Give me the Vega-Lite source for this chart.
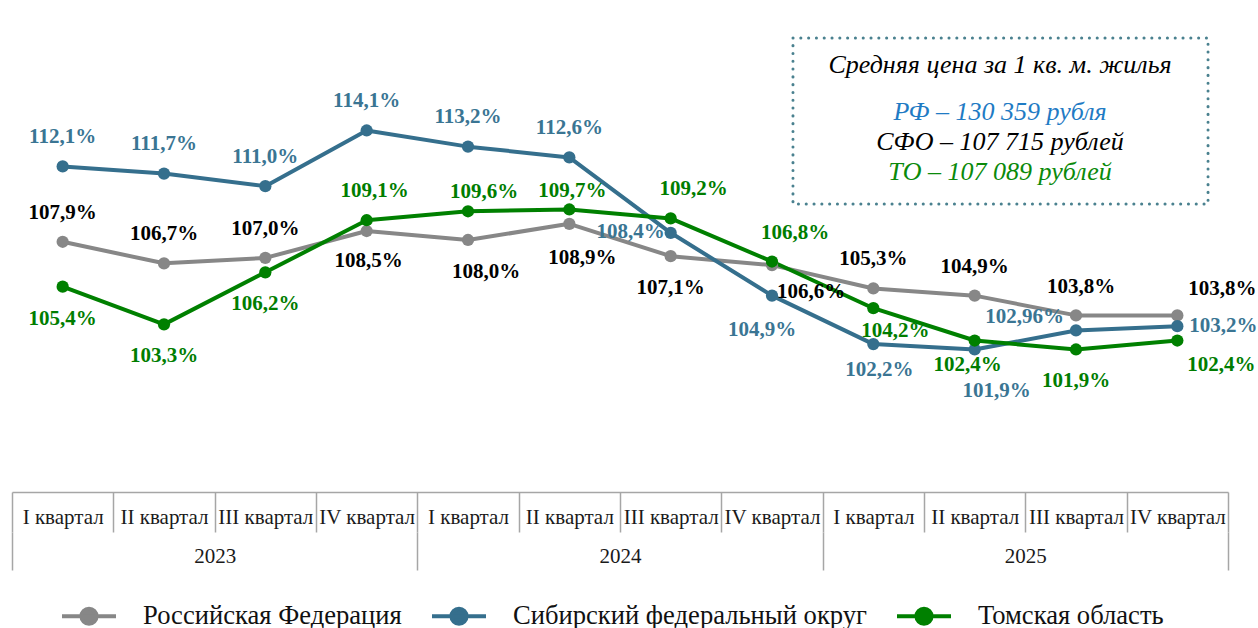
{
  "$schema": "https://vega.github.io/schema/vega-lite/v6.json",
  "width": 1216,
  "height": 492,
  "padding": {"left": 11, "top": 0, "right": 0, "bottom": 0},
  "background": "white",
  "config": {"view": {"stroke": null}, "font": "Liberation Serif"},
  "data": {"values": [
    {"period": "2023 I", "year": "2023", "code": "RF", "series": "Российская Федерация", "value": 107.9, "label": "107,9%"},
    {"period": "2023 II", "year": "2023", "code": "RF", "series": "Российская Федерация", "value": 106.7, "label": "106,7%"},
    {"period": "2023 III", "year": "2023", "code": "RF", "series": "Российская Федерация", "value": 107.0, "label": "107,0%"},
    {"period": "2023 IV", "year": "2023", "code": "RF", "series": "Российская Федерация", "value": 108.5, "label": "108,5%"},
    {"period": "2024 I", "year": "2024", "code": "RF", "series": "Российская Федерация", "value": 108.0, "label": "108,0%"},
    {"period": "2024 II", "year": "2024", "code": "RF", "series": "Российская Федерация", "value": 108.9, "label": "108,9%"},
    {"period": "2024 III", "year": "2024", "code": "RF", "series": "Российская Федерация", "value": 107.1, "label": "107,1%"},
    {"period": "2024 IV", "year": "2024", "code": "RF", "series": "Российская Федерация", "value": 106.6, "label": "106,6%"},
    {"period": "2025 I", "year": "2025", "code": "RF", "series": "Российская Федерация", "value": 105.3, "label": "105,3%"},
    {"period": "2025 II", "year": "2025", "code": "RF", "series": "Российская Федерация", "value": 104.9, "label": "104,9%"},
    {"period": "2025 III", "year": "2025", "code": "RF", "series": "Российская Федерация", "value": 103.8, "label": "103,8%"},
    {"period": "2025 IV", "year": "2025", "code": "RF", "series": "Российская Федерация", "value": 103.8, "label": "103,8%"},
    {"period": "2023 I", "year": "2023", "code": "SFO", "series": "Сибирский федеральный округ", "value": 112.1, "label": "112,1%"},
    {"period": "2023 II", "year": "2023", "code": "SFO", "series": "Сибирский федеральный округ", "value": 111.7, "label": "111,7%"},
    {"period": "2023 III", "year": "2023", "code": "SFO", "series": "Сибирский федеральный округ", "value": 111.0, "label": "111,0%"},
    {"period": "2023 IV", "year": "2023", "code": "SFO", "series": "Сибирский федеральный округ", "value": 114.1, "label": "114,1%"},
    {"period": "2024 I", "year": "2024", "code": "SFO", "series": "Сибирский федеральный округ", "value": 113.2, "label": "113,2%"},
    {"period": "2024 II", "year": "2024", "code": "SFO", "series": "Сибирский федеральный округ", "value": 112.6, "label": "112,6%"},
    {"period": "2024 III", "year": "2024", "code": "SFO", "series": "Сибирский федеральный округ", "value": 108.4, "label": "108,4%"},
    {"period": "2024 IV", "year": "2024", "code": "SFO", "series": "Сибирский федеральный округ", "value": 104.9, "label": "104,9%"},
    {"period": "2025 I", "year": "2025", "code": "SFO", "series": "Сибирский федеральный округ", "value": 102.2, "label": "102,2%"},
    {"period": "2025 II", "year": "2025", "code": "SFO", "series": "Сибирский федеральный округ", "value": 101.9, "label": "101,9%"},
    {"period": "2025 III", "year": "2025", "code": "SFO", "series": "Сибирский федеральный округ", "value": 102.96, "label": "102,96%"},
    {"period": "2025 IV", "year": "2025", "code": "SFO", "series": "Сибирский федеральный округ", "value": 103.2, "label": "103,2%"},
    {"period": "2023 I", "year": "2023", "code": "TO", "series": "Томская область", "value": 105.4, "label": "105,4%"},
    {"period": "2023 II", "year": "2023", "code": "TO", "series": "Томская область", "value": 103.3, "label": "103,3%"},
    {"period": "2023 III", "year": "2023", "code": "TO", "series": "Томская область", "value": 106.2, "label": "106,2%"},
    {"period": "2023 IV", "year": "2023", "code": "TO", "series": "Томская область", "value": 109.1, "label": "109,1%"},
    {"period": "2024 I", "year": "2024", "code": "TO", "series": "Томская область", "value": 109.6, "label": "109,6%"},
    {"period": "2024 II", "year": "2024", "code": "TO", "series": "Томская область", "value": 109.7, "label": "109,7%"},
    {"period": "2024 III", "year": "2024", "code": "TO", "series": "Томская область", "value": 109.2, "label": "109,2%"},
    {"period": "2024 IV", "year": "2024", "code": "TO", "series": "Томская область", "value": 106.8, "label": "106,8%"},
    {"period": "2025 I", "year": "2025", "code": "TO", "series": "Томская область", "value": 104.2, "label": "104,2%"},
    {"period": "2025 II", "year": "2025", "code": "TO", "series": "Томская область", "value": 102.4, "label": "102,4%"},
    {"period": "2025 III", "year": "2025", "code": "TO", "series": "Томская область", "value": 101.9, "label": "101,9%"},
    {"period": "2025 IV", "year": "2025", "code": "TO", "series": "Томская область", "value": 102.4, "label": "102,4%"}
  ]},
  "resolve": {"scale": {"x": "independent"}, "axis": {"x": "independent"}},
  "layer": [
    {
      "encoding": {
        "x": {"field": "period", "type": "ordinal", "sort": null,
              "scale": {"type": "band", "paddingInner": 0, "paddingOuter": 0},
              "axis": {"title": null, "orient": "bottom", "domain": true, "domainColor": "#a6a6a6", "domainWidth": 1.5,
                       "ticks": true, "tickBand": "extent", "tickSize": 40, "tickColor": "#a6a6a6", "tickWidth": 1.5,
                       "labelExpr": "isString(datum.value) ? split(datum.value, ' ')[1] + ' квартал' : ''", "labelFont": "Liberation Serif", "labelFontSize": 21,
                       "labelColor": "#1a1a1a", "labelBaseline": "middle", "labelPadding": -14.5, "labelOverlap": false,
                       "labelAngle": 0, "grid": false, "labelLimit": 200}},
        "y": {"field": "value", "type": "quantitative", "scale": {"domain": [93.96, 121.37], "nice": false, "zero": false}, "axis": null}
      },
      "layer": [
        {
          "mark": {"type": "line", "strokeWidth": 4, "strokeJoin": "round", "point": {"filled": true, "size": 150, "opacity": 1}},
          "encoding": {
            "color": {"field": "series", "type": "nominal",
                      "scale": {"domain": ["Российская Федерация", "Сибирский федеральный округ", "Томская область"], "range": ["#878787", "#356f8d", "#008000"]},
                      "legend": {"title": null, "orient": "none", "legendX": 48, "legendY": 587, "direction": "horizontal",
                                 "symbolType": "M-1,0L1,0M0.28,0A0.28,0.28,0,1,1,-0.28,0A0.28,0.28,0,1,1,0.28,0Z",
                                 "symbolSize": 2916, "symbolStrokeWidth": 4,
                                 "labelFont": "Liberation Serif", "labelFontSize": 26.6, "labelColor": "#111111",
                                 "labelOffset": 25, "columnPadding": 22, "labelLimit": 600,
                                 "encode": {"symbols": {"update": {"fill": {"scale": "color", "field": "value"}, "stroke": {"scale": "color", "field": "value"}, "opacity": {"value": 1}}}}}
            }
          }
        },
        {
          "encoding": {
            "text": {"field": "label", "type": "nominal"},
            "color": {"condition": [{"test": "datum.code==='RF'", "value": "#000000"}, {"test": "datum.code==='SFO'", "value": "#3a7593"}], "value": "#007d00"}
          },
          "layer": [
            {"transform": [{"filter": "datum.code==='RF' && indexof(['2023 I','2023 II','2023 III','2025 I','2025 II'], datum.period) >= 0"}],
             "mark": {"type": "text", "fontWeight": "bold", "fontSize": 21, "baseline": "middle", "align": "center", "dx": 0, "dy": -29}},
            {"transform": [{"filter": "datum.code==='SFO' && indexof(['2023 I','2023 II','2023 III','2023 IV','2024 I','2024 II'], datum.period) >= 0"}],
             "mark": {"type": "text", "fontWeight": "bold", "fontSize": 21, "baseline": "middle", "align": "center", "dx": 0, "dy": -29.5}},
            {"transform": [{"filter": "datum.code==='RF' && datum.period==='2025 III'"}],
             "mark": {"type": "text", "fontWeight": "bold", "fontSize": 21, "baseline": "middle", "align": "center", "dx": 5, "dy": -28.5}},
            {"transform": [{"filter": "(datum.code==='RF' && datum.period==='2024 III') || (datum.code==='TO' && indexof(['2023 I','2023 II','2023 III','2025 III'], datum.period) >= 0)"}],
             "mark": {"type": "text", "fontWeight": "bold", "fontSize": 21, "baseline": "middle", "align": "center", "dx": 0, "dy": 32}},
            {"transform": [{"filter": "datum.code==='RF' && datum.period==='2023 IV'"}],
             "mark": {"type": "text", "fontWeight": "bold", "fontSize": 21, "baseline": "middle", "align": "center", "dx": 2, "dy": 29.5}},
            {"transform": [{"filter": "datum.code==='RF' && datum.period==='2024 I'"}],
             "mark": {"type": "text", "fontWeight": "bold", "fontSize": 21, "baseline": "middle", "align": "center", "dx": 18, "dy": 32}},
            {"transform": [{"filter": "datum.code==='RF' && datum.period==='2024 II'"}],
             "mark": {"type": "text", "fontWeight": "bold", "fontSize": 21, "baseline": "middle", "align": "center", "dx": 13, "dy": 34}},
            {"transform": [{"filter": "datum.code==='RF' && datum.period==='2024 IV'"}],
             "mark": {"type": "text", "fontWeight": "bold", "fontSize": 21, "baseline": "middle", "align": "left", "dx": 5, "dy": 26.5}},
            {"transform": [{"filter": "datum.code==='RF' && datum.period==='2025 IV'"}],
             "mark": {"type": "text", "fontWeight": "bold", "fontSize": 21, "baseline": "middle", "align": "left", "dx": 11, "dy": -26}},
            {"transform": [{"filter": "datum.code==='SFO' && datum.period==='2024 III'"}],
             "mark": {"type": "text", "fontWeight": "bold", "fontSize": 21, "baseline": "middle", "align": "right", "dx": -6, "dy": -1}},
            {"transform": [{"filter": "datum.code==='SFO' && datum.period==='2024 IV'"}],
             "mark": {"type": "text", "fontWeight": "bold", "fontSize": 21, "baseline": "middle", "align": "center", "dx": -10, "dy": 34.5}},
            {"transform": [{"filter": "datum.code==='SFO' && datum.period==='2025 I'"}],
             "mark": {"type": "text", "fontWeight": "bold", "fontSize": 21, "baseline": "middle", "align": "center", "dx": 6, "dy": 26}},
            {"transform": [{"filter": "datum.code==='SFO' && datum.period==='2025 II'"}],
             "mark": {"type": "text", "fontWeight": "bold", "fontSize": 21, "baseline": "middle", "align": "center", "dx": 22, "dy": 42}},
            {"transform": [{"filter": "datum.code==='SFO' && datum.period==='2025 III'"}],
             "mark": {"type": "text", "fontWeight": "bold", "fontSize": 21, "baseline": "middle", "align": "right", "dx": -12, "dy": -13}},
            {"transform": [{"filter": "datum.code==='SFO' && datum.period==='2025 IV'"}],
             "mark": {"type": "text", "fontWeight": "bold", "fontSize": 21, "baseline": "middle", "align": "left", "dx": 12, "dy": 0}},
            {"transform": [{"filter": "datum.code==='TO' && datum.period==='2023 IV'"}],
             "mark": {"type": "text", "fontWeight": "bold", "fontSize": 21, "baseline": "middle", "align": "center", "dx": 8, "dy": -29.5}},
            {"transform": [{"filter": "datum.code==='TO' && datum.period==='2024 I'"}],
             "mark": {"type": "text", "fontWeight": "bold", "fontSize": 21, "baseline": "middle", "align": "center", "dx": 16, "dy": -19.5}},
            {"transform": [{"filter": "datum.code==='TO' && datum.period==='2024 II'"}],
             "mark": {"type": "text", "fontWeight": "bold", "fontSize": 21, "baseline": "middle", "align": "center", "dx": 3, "dy": -18.5}},
            {"transform": [{"filter": "datum.code==='TO' && indexof(['2024 III','2024 IV'], datum.period) >= 0"}],
             "mark": {"type": "text", "fontWeight": "bold", "fontSize": 21, "baseline": "middle", "align": "center", "dx": 23, "dy": -29}},
            {"transform": [{"filter": "datum.code==='TO' && datum.period==='2025 I'"}],
             "mark": {"type": "text", "fontWeight": "bold", "fontSize": 21, "baseline": "middle", "align": "center", "dx": 22, "dy": 22.5}},
            {"transform": [{"filter": "datum.code==='TO' && datum.period==='2025 II'"}],
             "mark": {"type": "text", "fontWeight": "bold", "fontSize": 21, "baseline": "middle", "align": "center", "dx": -7, "dy": 24}},
            {"transform": [{"filter": "datum.code==='TO' && datum.period==='2025 IV'"}],
             "mark": {"type": "text", "fontWeight": "bold", "fontSize": 21, "baseline": "middle", "align": "left", "dx": 10, "dy": 24.5}}
          ]
        }
      ]
    },
    {
      "mark": {"type": "text", "text": ""},
      "encoding": {
        "x": {"field": "year", "type": "ordinal", "sort": null,
              "scale": {"type": "band", "paddingInner": 0, "paddingOuter": 0},
              "axis": {"title": null, "orient": "bottom", "offset": 40, "domain": false,
                       "ticks": true, "tickBand": "extent", "tickSize": 38, "tickColor": "#a6a6a6", "tickWidth": 1.5,
                       "labelExpr": "isString(datum.value) ? datum.value : ''",
                       "labelFont": "Liberation Serif", "labelFontSize": 21, "labelColor": "#1a1a1a",
                       "labelBaseline": "middle", "labelPadding": -13.5, "labelOverlap": false, "labelAngle": 0, "grid": false}}
      }
    },
    {
      "data": {"values": [{}]},
      "layer": [
        {
          "mark": {"type": "rect", "fill": "transparent", "stroke": "#4a818f", "strokeWidth": 3, "strokeDash": [0.1, 7.7], "strokeCap": "round"},
          "encoding": {
            "x": {"datum": 7.707, "type": "quantitative", "scale": {"domain": [0, 12], "nice": false, "zero": false}, "axis": null},
            "x2": {"datum": 11.803},
            "y": {"datum": 119.253, "type": "quantitative", "scale": {"domain": [93.96, 121.37], "nice": false, "zero": false}, "axis": null},
            "y2": {"datum": 110.005}
          }
        },
        {
          "mark": {"type": "text", "text": "Средняя цена за 1 кв. м. жилья", "fontStyle": "italic", "fontSize": 26, "color": "#000000", "align": "center", "baseline": "alphabetic"},
          "encoding": {
            "x": {"datum": 9.75, "type": "quantitative", "scale": {"domain": [0, 12], "nice": false, "zero": false}, "axis": null},
            "y": {"datum": 117.303, "type": "quantitative", "axis": null}
          }
        },
        {
          "mark": {"type": "text", "text": "РФ – 130 359 рубля", "fontStyle": "italic", "fontSize": 26, "color": "#1f7bc4", "align": "center", "baseline": "alphabetic"},
          "encoding": {
            "x": {"datum": 9.75, "type": "quantitative", "axis": null},
            "y": {"datum": 114.685, "type": "quantitative", "axis": null}
          }
        },
        {
          "mark": {"type": "text", "text": "СФО – 107 715 рублей", "fontStyle": "italic", "fontSize": 26, "color": "#000000", "align": "center", "baseline": "alphabetic"},
          "encoding": {
            "x": {"datum": 9.75, "type": "quantitative", "axis": null},
            "y": {"datum": 113.014, "type": "quantitative", "axis": null}
          }
        },
        {
          "mark": {"type": "text", "text": "ТО – 107 089 рублей", "fontStyle": "italic", "fontSize": 26, "color": "#0a8a0a", "align": "center", "baseline": "alphabetic"},
          "encoding": {
            "x": {"datum": 9.75, "type": "quantitative", "axis": null},
            "y": {"datum": 111.342, "type": "quantitative", "axis": null}
          }
        }
      ]
    }
  ]
}
